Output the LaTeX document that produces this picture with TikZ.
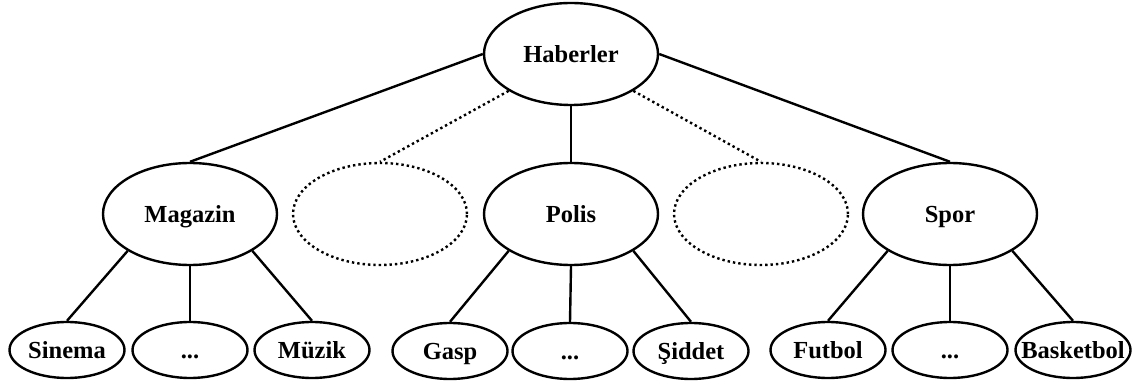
\documentclass[tikz,border=0pt]{standalone}
\usepackage{fontspec}
\setmainfont{Liberation Serif}
\usetikzlibrary{shapes.geometric}
\tikzset{
  topic/.style={draw,ellipse,line width=2.4pt,inner sep=0pt,minimum width=174pt,minimum height=102pt,
    text height=17pt,text depth=0pt,font=\fontsize{24.5}{29}\selectfont\bfseries},
  hidden/.style={topic,dash pattern=on 2.4pt off 3pt},
  leaf/.style={topic,inner xsep=-15pt,minimum width=115pt,minimum height=56pt},
  link/.style={line width=2.4pt},
  hiddenlink/.style={line width=2.4pt,dash pattern=on 2.4pt off 3pt}
}
\begin{document}
\begin{tikzpicture}[x=1pt,y=-1pt]
  \useasboundingbox (0,0) rectangle (1139,387);
  \node[topic] (haber) at (571,54) {Haberler};
  \node[topic] (magazin) at (190,214) {Magazin};
  \node[hidden] (bosl) at (380,214) {};
  \node[topic] (polis) at (571,214) {Polis};
  \node[hidden] (bosr) at (761,214) {};
  \node[topic] (spor) at (950,214) {Spor};
  \node[leaf] (sinema) at (67,350) {Sinema};
  \node[leaf] (magdots) at (190,350) {...};
  \node[leaf] (muzik) at (312,350) {Müzik};
  \node[leaf] (gasp) at (450,351) {Gasp};
  \node[leaf] (poldots) at (570,351) {...};
  \node[leaf] (siddet) at (691,351) {Şiddet};
  \node[leaf] (futbol) at (828,350) {Futbol};
  \node[leaf] (spordots) at (950,350) {...};
  \node[leaf] (basket) at (1073,350) {Basketbol};
  \draw[link] (haber.west) -- (magazin.north);
  \draw[link] (haber.south) -- (polis.north);
  \draw[link] (haber.east) -- (spor.north);
  \draw[hiddenlink] (haber.south west) -- (bosl.north);
  \draw[hiddenlink] (haber.south east) -- (bosr.north);
  \draw[link] (magazin.south west) -- (sinema.north);
  \draw[link] (magazin.south) -- (magdots.north);
  \draw[link] (magazin.south east) -- (muzik.north);
  \draw[link] (polis.south west) -- (gasp.north);
  \draw[link] (polis.south) -- (poldots.north);
  \draw[link] (polis.south east) -- (siddet.north);
  \draw[link] (spor.south west) -- (futbol.north);
  \draw[link] (spor.south) -- (spordots.north);
  \draw[link] (spor.south east) -- (basket.north);
\end{tikzpicture}
\end{document}
